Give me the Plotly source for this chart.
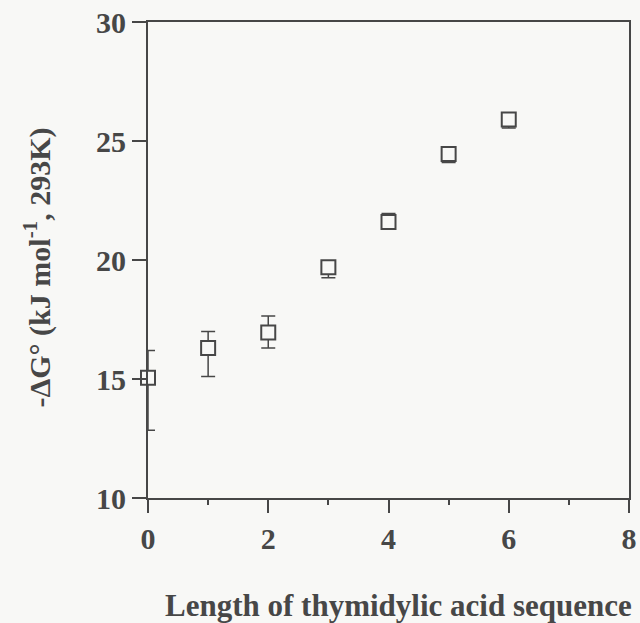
import plotly.graph_objects as go

length = [0, 1, 2, 3, 4, 5, 6]
dg = [15.05, 16.3, 16.95, 19.7, 21.6, 24.45, 25.9]
err_plus = [1.15, 0.7, 0.7, 0.2, 0.35, 0.15, 0.1]
err_minus = [2.2, 1.2, 0.65, 0.45, 0.15, 0.35, 0.35]

x_ticks = [0, 2, 4, 6, 8]
x_minor = [1, 3, 5, 7]
y_ticks = [10, 15, 20, 25, 30]

x_title = "<b>Length of thymidylic acid sequence</b>"
y_title = "<b>-ΔG° (kJ mol<sup>-1</sup>, 293K)</b>"

ink = "#474747"
bg = "#f8f8f6"
font = "Liberation Serif"

fig = go.Figure()
fig.add_trace(go.Scatter(
    x=length, y=dg, mode="markers",
    marker=dict(symbol="square", size=14, color=bg,
                line=dict(color=ink, width=2)),
    error_y=dict(type="data", symmetric=False, array=err_plus,
                 arrayminus=err_minus, color=ink, thickness=1.5, width=7),
    cliponaxis=False,
))

fig.update_layout(
    width=640, height=623,
    margin=dict(l=148, r=11, t=22, b=125),
    paper_bgcolor=bg, plot_bgcolor=bg,
    showlegend=False,
    font=dict(family=font, color=ink),
)
fig.update_xaxes(
    range=[0, 8], tickvals=x_ticks, ticks="outside", ticklen=13,
    tickwidth=2, tickcolor=ink, showgrid=False, zeroline=False,
    showline=True, linecolor=ink, linewidth=2, mirror=True,
    automargin=False,
    tickfont=dict(family=font, size=30, color=ink, weight="bold"),
    minor=dict(tickvals=x_minor, ticks="outside", ticklen=5,
               tickwidth=2, tickcolor=ink, showgrid=False),
)
fig.update_yaxes(
    range=[10, 30], tickvals=y_ticks, ticks="outside", ticklen=14,
    tickwidth=2, tickcolor=ink, showgrid=False, zeroline=False,
    showline=True, linecolor=ink, linewidth=2, mirror=True,
    automargin=False,
    tickfont=dict(family=font, size=30, color=ink, weight="bold"),
)

# axis titles placed as annotations to match the original positions
fig.add_annotation(text=x_title, xref="paper", yref="paper",
                   x=0.52, y=-0.226, xanchor="center", yanchor="middle",
                   showarrow=False,
                   font=dict(family=font, size=31, color=ink))
fig.add_annotation(text=y_title, xref="paper", yref="paper",
                   x=-0.23, y=0.485, xanchor="center", yanchor="middle",
                   textangle=-90, showarrow=False,
                   font=dict(family=font, size=30, color=ink))

fig.write_html("out.html")
